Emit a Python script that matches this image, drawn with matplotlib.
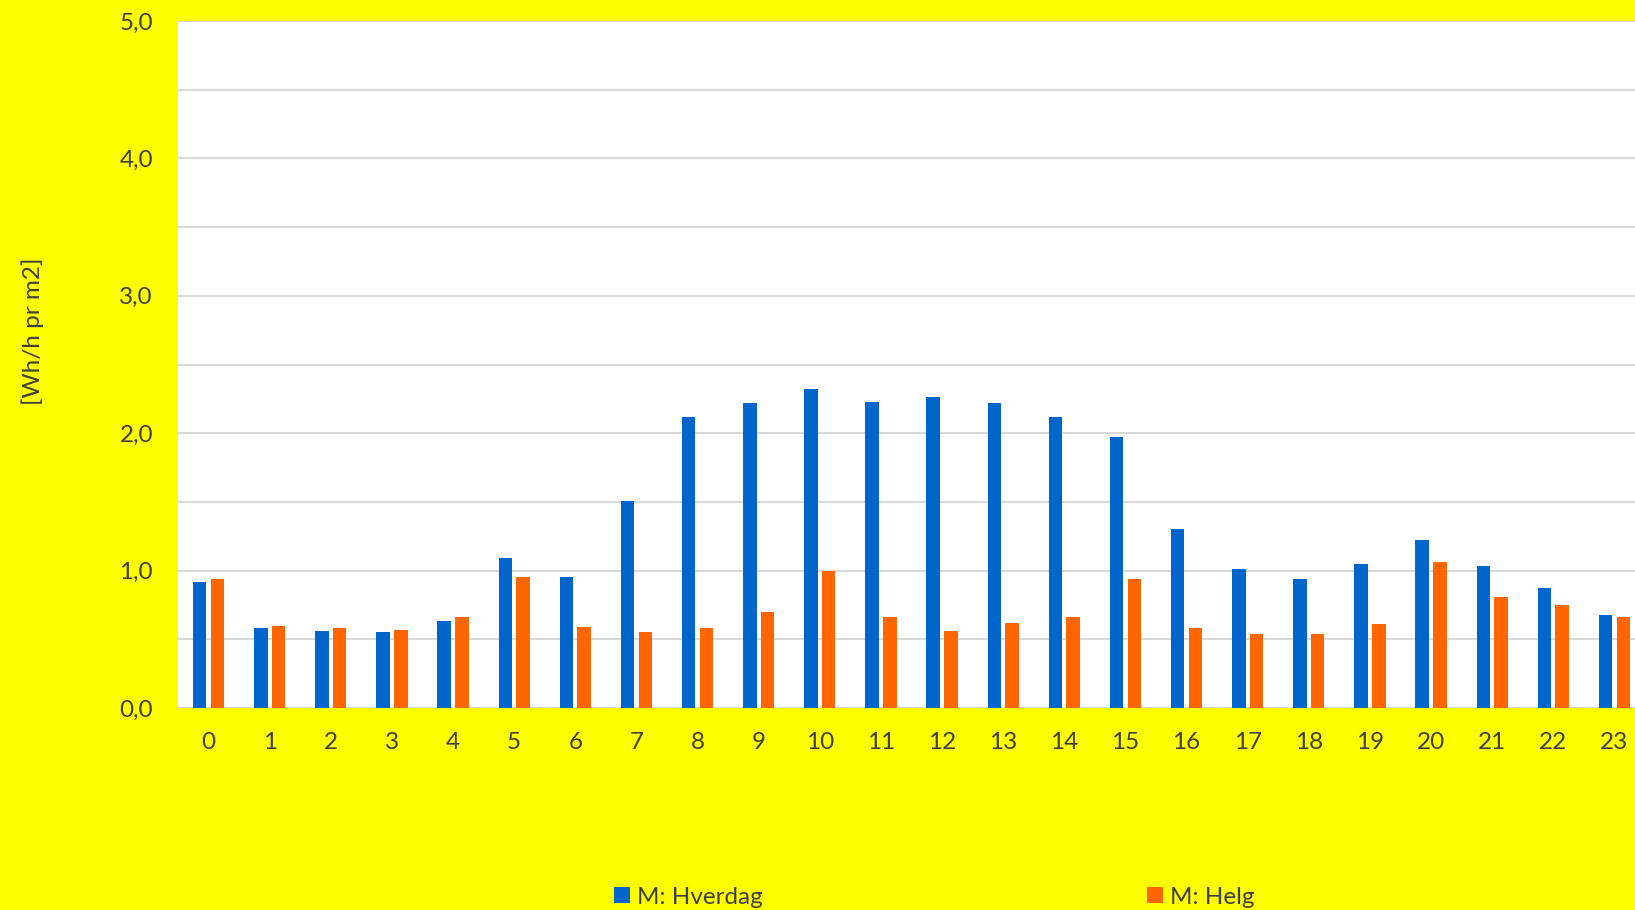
import numpy as np
import matplotlib
matplotlib.use("agg")
import matplotlib.pyplot as plt
from matplotlib.patches import Patch

plt.rcParams['font.family'] = ['Lato', 'DejaVu Sans']

# timer i døgnet
hours = list(range(24))
hverdag = [0.92, 0.58, 0.56, 0.55, 0.63, 1.09, 0.95, 1.51, 2.12, 2.22, 2.32, 2.23,
           2.26, 2.22, 2.12, 1.97, 1.30, 1.01, 0.94, 1.05, 1.22, 1.03, 0.87, 0.68]
helg = [0.94, 0.60, 0.58, 0.57, 0.66, 0.95, 0.59, 0.55, 0.58, 0.70, 1.00, 0.66,
        0.56, 0.62, 0.66, 0.94, 0.58, 0.54, 0.54, 0.61, 1.06, 0.81, 0.75, 0.66]
yticks = [0.0, 1.0, 2.0, 3.0, 4.0, 5.0]
ylabels = ['0,0', '1,0', '2,0', '3,0', '4,0', '5,0']
series_names = ['M: Hverdag', 'M: Helg']

BLUE = '#0066CC'
ORANGE = '#FF6600'
YELLOW = '#FFFF00'
TXT = '#404040'
FS = 17.5

W, H = 1635, 910
fig = plt.figure(figsize=(W / 100, H / 100), dpi=100, facecolor=YELLOW)
# axes: left 178px, top 21px, bottom 708px, right ~1645px (past the edge)
ax = fig.add_axes([178 / W, 1 - 708 / H, (1645 - 178) / W, (708 - 21) / H])
ax.set_facecolor('white')

x = np.arange(len(hours))
bw = 0.22
ax.bar(x - 0.145, hverdag, width=bw, color=BLUE, zorder=3)
ax.bar(x + 0.145, helg, width=bw, color=ORANGE, zorder=3)

ax.set_xlim(-0.5, len(hours) - 0.5)
ax.set_ylim(0, 5.0)
ax.set_yticks(yticks)
ax.set_yticklabels(ylabels)
ax.set_yticks(np.arange(0.5, 5.0, 1.0), minor=True)
ax.set_xticks(x)
ax.set_xticklabels([str(h) for h in hours])

ax.grid(axis='y', which='both', color='#D9D9D9', linewidth=1.5, zorder=0)
for s in ax.spines.values():
    s.set_visible(False)
ax.tick_params(axis='both', which='both', length=0, labelsize=FS, colors=TXT)
ax.tick_params(axis='y', pad=18)
ax.tick_params(axis='x', pad=17.5)

fig.text(33 / W, 1 - 331 / H, '[Wh/h pr m2]', rotation=90, ha='center', va='center',
         fontsize=FS, color=TXT)

h1 = [Patch(facecolor=BLUE, label=series_names[0])]
h2 = [Patch(facecolor=ORANGE, label=series_names[1])]
fig.legend(handles=h1, loc='center left', bbox_to_anchor=(592 / W, 1 - 897 / H),
           frameon=False, fontsize=FS, labelcolor=TXT, handlelength=0.65,
           handleheight=0.65, handletextpad=0.3)
fig.legend(handles=h2, loc='center left', bbox_to_anchor=(1125 / W, 1 - 897 / H),
           frameon=False, fontsize=FS, labelcolor=TXT, handlelength=0.65,
           handleheight=0.65, handletextpad=0.3)

fig.savefig('out.png', dpi=100, facecolor=YELLOW)
